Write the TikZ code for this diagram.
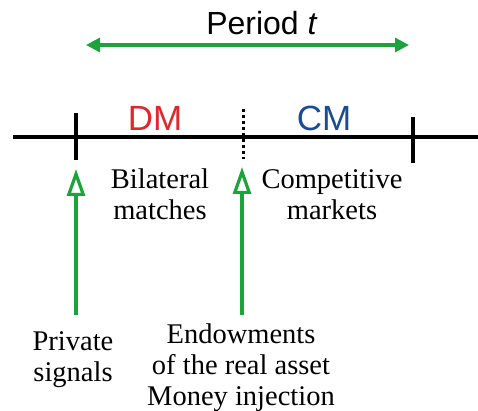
\documentclass[tikz,border=0pt]{standalone}
\usepackage{fontspec}
\setmainfont{Liberation Serif}
\setsansfont{Liberation Sans}
\usetikzlibrary{arrows.meta}
\definecolor{gr}{RGB}{27,164,58}
\definecolor{dmred}{RGB}{222,40,44}
\definecolor{cmblue}{RGB}{24,76,150}
\tikzset{
  axis/.style={line width=3.2pt, black},
  tick/.style={line width=3.2pt, black},
  upar/.style={line width=3.2pt, gr, -{Triangle[open, length=27pt, width=18pt, line width=3.2pt]}},
  lbl/.style={font=\fontsize{28.5}{31}\selectfont, align=center, inner sep=0pt, anchor=north},
  phase/.style={font=\sffamily\fontsize{35}{40}\selectfont, inner sep=0pt, anchor=base},
}
\begin{document}
\begin{tikzpicture}[x=1pt, y=-1pt]
\useasboundingbox (0,0) rectangle (478,411);
% axis
\coordinate (aL) at (13,137);
\coordinate (aR) at (478,137);
\draw[axis] (aL) -- (aR);
\coordinate (t1a) at (76,113); \coordinate (t1b) at (76,160);
\coordinate (t2a) at (413,117); \coordinate (t2b) at (413,163);
\coordinate (t3a) at (243,109); \coordinate (t3b) at (243,159);
\draw[tick] (t1a) -- (t1b);
\draw[tick] (t2a) -- (t2b);
\draw[line width=3pt, dash pattern=on 3.5pt off 2.5pt] (t3a) -- (t3b);
% period
\node[font=\sffamily\fontsize{32}{36}\selectfont, inner sep=0pt, anchor=base] (per) at (262,35) {Period \textit{t}};
\coordinate (pL) at (86,45); \coordinate (pR) at (409,45);
\draw[line width=3.2pt, gr, {Triangle[length=14pt, width=14pt]}-{Triangle[length=14pt, width=14pt]}] (pL) -- (pR);
% phases
\node[phase, text=dmred] (dm) at (155,131) {DM};
\node[phase, text=cmblue] (cm) at (324,131) {CM};
% labels
\node[lbl] (bil) at (160,169) {Bilateral\\matches};
\node[lbl] (comp) at (332,169) {Competitive\\markets};
\node[lbl] (priv) at (73,331) {Private\\signals};
\node[lbl] (endw) at (241,324) {Endowments\\of the real asset\\Money injection};
% up arrows
\coordinate (u1a) at (76,315); \coordinate (u1b) at (76,169);
\coordinate (u2a) at (242,315); \coordinate (u2b) at (242,167);
\draw[upar] (u1a) -- (u1b);
\draw[upar] (u2a) -- (u2b);
\end{tikzpicture}
\end{document}
